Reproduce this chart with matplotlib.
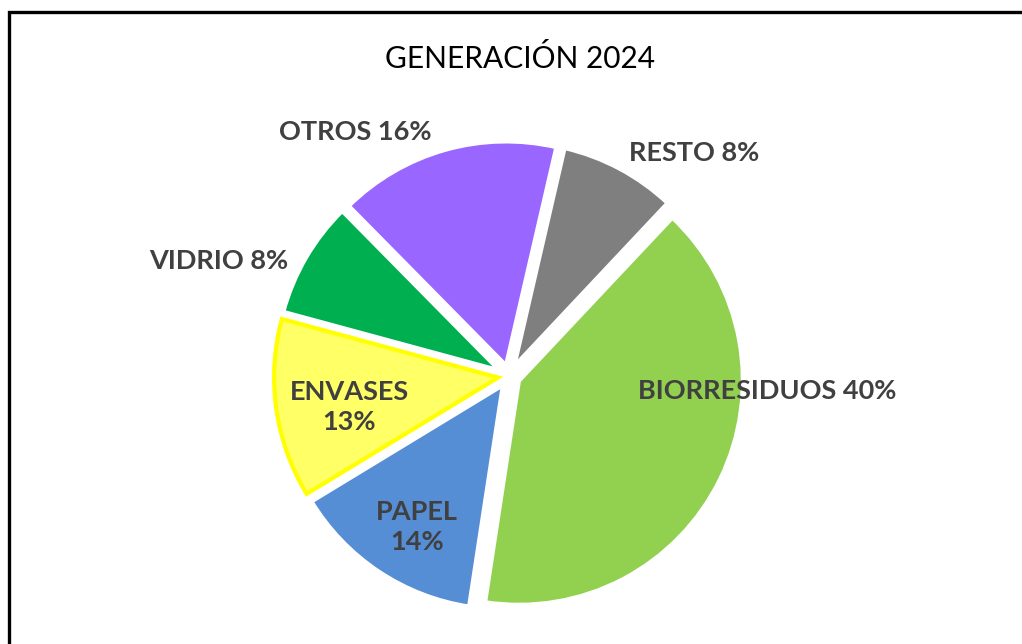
import matplotlib.pyplot as plt
from matplotlib.patches import Rectangle

categories = ["RESTO", "BIORRESIDUOS", "PAPEL", "ENVASES", "VIDRIO", "OTROS"]
shares = [8.4, 40.4, 13.9, 12.9, 8.4, 16.0]
colors = ["#7f7f7f", "#92d050", "#558ed5", "#ffff66", "#00b050", "#9966ff"]
edge_colors = ["white", "white", "white", "#ffff00", "white", "white"]
# label anchor (pixels from top-left) and whether name/percent go on two lines
label_pos = [(694, 153), (767, 391), (417, 527), (349, 407), (219, 261), (355, 132)]
two_lines = [False, False, True, True, False, False]

W, H = 1022, 644
fig = plt.figure(figsize=(W / 100, H / 100), dpi=100)
ax = fig.add_axes([0, 0, 1, 1])

cx, cy, r = 509, H - 376, 224
wedges, _ = ax.pie(
    shares,
    colors=colors,
    startangle=77,
    counterclock=False,
    center=(cx, cy),
    radius=r,
    explode=[11] * len(shares),  # offset in data units (pixels here)
    wedgeprops=dict(linewidth=3, edgecolor="white"),
    frame=True,
)
ax.set_xlim(0, W)
ax.set_ylim(0, H)
ax.set_aspect("equal")
ax.axis("off")
for w, ec in zip(wedges, edge_colors):
    if ec != "white":
        w.set_edgecolor(ec)
        w.set_linewidth(3)

for name, val, (x, y), split in zip(categories, shares, label_pos, two_lines):
    pct = f"{round(val):d}%"
    txt = f"{name}\n{pct}" if split else f"{name} {pct}"
    ax.text(x, H - y, txt, ha="center", va="center", fontsize=19.5,
            fontweight="bold", color="#404040", family="Lato", linespacing=1.3)

ax.text(520, H - 58, "GENERACIÓN 2024", ha="center", va="center",
        fontsize=21.5, color="black", family="Lato")

fig.patches.append(Rectangle((8.5 / W, -0.1), 1.2, (H - 11.5) / H + 0.1,
                             transform=fig.transFigure, fill=False,
                             edgecolor="black", linewidth=2.4))

fig.savefig("out.png", dpi=100)
